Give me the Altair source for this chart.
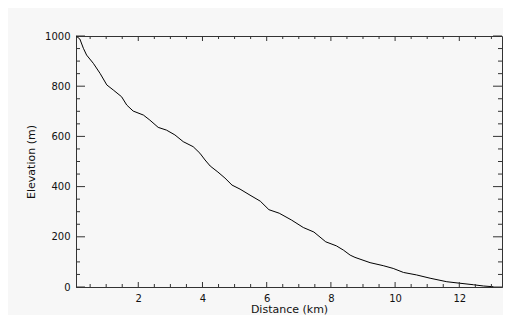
import altair as alt
import pandas as pd

# ---- data ----
distance = [0.06, 0.18, 0.29, 0.39, 0.60, 0.81, 1.02, 1.22, 1.48, 1.64, 1.84,
            2.16, 2.36, 2.62, 2.88, 3.14, 3.40, 3.71, 3.92, 4.08, 4.24, 4.48,
            4.70, 4.92, 5.17, 5.48, 5.80, 6.07, 6.39, 6.77, 7.14, 7.47, 7.84,
            8.17, 8.39, 8.60, 8.75, 9.22, 9.63, 9.94, 10.26, 10.67, 11.09,
            11.61, 12.02, 12.44, 12.75, 13.06]
elevation = [1000, 988, 951, 924, 891, 851, 805, 785, 758, 725, 701,
             685, 665, 636, 625, 606, 579, 559, 533, 506, 482, 458,
             434, 406, 390, 366, 342, 308, 294, 267, 237, 219, 180,
             164, 147, 127, 118, 97, 85, 74, 58, 48, 35,
             21, 15, 9, 4, 1]

x_major = [2, 4, 6, 8, 10, 12]
x_minor = [0.5, 1, 1.5, 2.5, 3, 3.5, 4.5, 5, 5.5, 6.5, 7, 7.5, 8.5, 9, 9.5,
           10.5, 11, 11.5, 12.5, 13]
y_major = [0, 200, 400, 600, 800, 1000]
y_minor = [50, 100, 150, 250, 300, 350, 450, 500, 550, 650, 700, 750,
           850, 900, 950]

x_domain = [0.06, 13.33]
y_domain = [0, 1000]

W, H = 426, 251
AX = "#333333"

df = pd.DataFrame({"distance": distance, "elevation": elevation})
xmaj = pd.DataFrame({"distance": x_major})
xmin = pd.DataFrame({"distance": x_minor})
ymaj = pd.DataFrame({"elevation": y_major})
ymin = pd.DataFrame({"elevation": y_minor})

xs = alt.Scale(domain=x_domain, nice=False, zero=False)
ys = alt.Scale(domain=y_domain, nice=False)

x_axis = alt.Axis(values=x_major, title="Distance (km)", ticks=False,
                  tickSize=0, grid=False, labelPadding=6,
                  titlePadding=0, format="d")
y_axis = alt.Axis(values=y_major, title="Elevation (m)", ticks=False,
                  tickSize=0, grid=False, labelPadding=6,
                  titlePadding=8, format="d")

X = alt.X("distance:Q", scale=xs, axis=x_axis)
Y = alt.Y("elevation:Q", scale=ys, axis=y_axis)

line = alt.Chart(df).mark_line(color="#000000", strokeWidth=1).encode(x=X, y=Y)

def xticks(data, length):
    bottom = alt.Chart(data).mark_rule(color=AX, strokeWidth=1).encode(
        x=X, y=alt.value(H), y2=alt.value(H - length))
    top = alt.Chart(data).mark_rule(color=AX, strokeWidth=1).encode(
        x=X, y=alt.value(0), y2=alt.value(length))
    return [bottom, top]

def yticks(data, length):
    left = alt.Chart(data).mark_rule(color=AX, strokeWidth=1).encode(
        y=Y, x=alt.value(0), x2=alt.value(length))
    right = alt.Chart(data).mark_rule(color=AX, strokeWidth=1).encode(
        y=Y, x=alt.value(W), x2=alt.value(W - length))
    return [left, right]

layers = [line] + xticks(xmaj, 5) + xticks(xmin, 3) + yticks(ymaj, 9) + yticks(ymin, 4)

chart = alt.layer(*layers).properties(
    width=W, height=H,
    autosize=alt.AutoSizeParams(type="none"),
    padding={"left": 68, "top": 28, "right": 1, "bottom": 28},
    background="#f7f7f7",
).configure_view(
    stroke=AX, strokeWidth=1, fill="#f7f7f7"
).configure_axis(
    labelFont="DejaVu Sans", labelFontSize=10, labelColor="#111111",
    titleFont="DejaVu Sans", titleFontSize=11, titleFontWeight="normal",
    titleColor="#111111", domainColor=AX, domainWidth=1,
)

chart.save("out.html", embed_options={"renderer": "svg", "actions": False})
